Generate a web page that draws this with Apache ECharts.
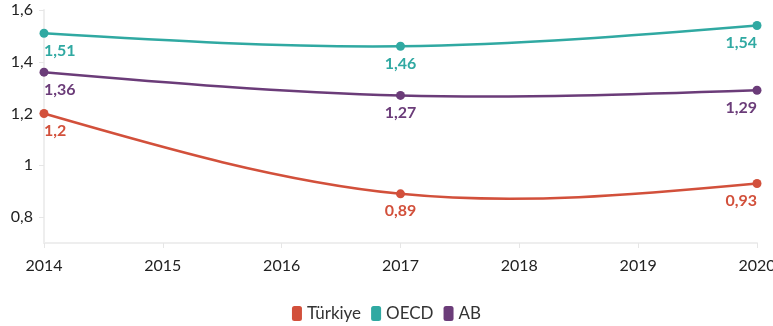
<!DOCTYPE html>
<html><head><meta charset="utf-8">
<script src="https://cdn.jsdelivr.net/npm/echarts@6/dist/echarts.min.js"></script>
<style>html,body{margin:0;padding:0;background:#fff}#c{width:773px;height:326px}</style>
</head><body><div id="c"></div>
<script>
var years = [2014, 2017, 2020];
var turkiye = [1.2, 0.89, 0.93];
var oecd = [1.51, 1.46, 1.54];
var ab = [1.36, 1.27, 1.29];
var yTicks = [0.8, 1, 1.2, 1.4, 1.6];
var seriesNames = ['Türkiye', 'OECD', 'AB'];
var colors = ['#d2503b', '#30a9a2', '#6b3c79'];
var FONT = 'Lato';

function fmt(v){ return String(v).replace('.', ','); }

// natural cubic spline control points (per dimension)
function controlPoints(x){
  var i, n = x.length - 1, m, a = new Array(n), b = new Array(n), r = new Array(n);
  a[0] = 0; b[0] = 2; r[0] = x[0] + 2 * x[1];
  for (i = 1; i < n - 1; ++i) { a[i] = 1; b[i] = 4; r[i] = 4 * x[i] + 2 * x[i + 1]; }
  a[n - 1] = 2; b[n - 1] = 7; r[n - 1] = 8 * x[n - 1] + x[n];
  for (i = 1; i < n; ++i) { m = a[i] / b[i - 1]; b[i] -= m; r[i] -= m * r[i - 1]; }
  a[n - 1] = r[n - 1] / b[n - 1];
  for (i = n - 2; i >= 0; --i) a[i] = (r[i] - a[i + 1]) / b[i];
  b[n - 1] = (x[n] + a[n - 1]) / 2;
  for (i = 0; i < n - 1; ++i) b[i] = 2 * x[i + 1] - a[i + 1];
  return [a, b];
}

function curveSeries(name, vals, color){
  return {
    name: name, type: 'custom', z: 1, silent: true,
    data: vals.map(function(v, i){ return [years[i], v]; }),
    encode: {x: 0, y: 1},
    renderItem: function(params, api){
      if (params.dataIndex !== 0) return null;
      var pts = vals.map(function(v, i){ return api.coord([years[i], v]); });
      var xs = pts.map(function(p){ return p[0]; });
      var ys = pts.map(function(p){ return p[1]; });
      var px = controlPoints(xs), py = controlPoints(ys);
      var children = [];
      for (var i = 0; i < pts.length - 1; i++) {
        children.push({type: 'bezierCurve',
          shape: {x1: xs[i], y1: ys[i], cpx1: px[0][i], cpy1: py[0][i],
                  cpx2: px[1][i], cpy2: py[1][i], x2: xs[i + 1], y2: ys[i + 1]},
          style: {stroke: color, lineWidth: 2.5, fill: null, lineCap: 'round'}});
      }
      return {type: 'group', children: children};
    }
  };
}

function pointSeries(name, vals, color){
  return {
    name: name, type: 'line', z: 3, color: color,
    symbol: 'circle', symbolSize: 9,
    lineStyle: {width: 0, opacity: 0},
    itemStyle: {color: color},
    data: vals.map(function(v, i){
      var align = i === 0 ? 'left' : (i === vals.length - 1 ? 'right' : 'center');
      return {value: [years[i], v], label: {align: align}};
    }),
    label: {show: true, position: 'bottom', distance: 5, color: color,
      fontFamily: FONT, fontWeight: 'bold', fontSize: 16,
      formatter: function(p){ return fmt(p.value[1]); }}
  };
}

var chart = echarts.init(document.getElementById('c'));
chart.setOption({
  animation: false,
  grid: {left: 44, right: 16, top: 10, bottom: 83, containLabel: false, outerBoundsMode: 'none'},
  legend: {top: 300, left: 'center', itemWidth: 10, itemHeight: 15, itemGap: 10,
    icon: 'roundRect',
    textStyle: {fontFamily: FONT, fontSize: 17, color: '#333'},
    data: seriesNames},
  xAxis: {type: 'value', min: 2014, max: 2020, interval: 1,
    axisLine: {lineStyle: {color: '#eeeeee', width: 2}},
    axisTick: {show: true, length: 5, lineStyle: {color: '#e6e6e6'}},
    splitLine: {show: false},
    axisLabel: {fontFamily: FONT, fontSize: 16, color: '#222', margin: 15,
      formatter: function(v){ return String(v); }}},
  yAxis: {type: 'value', min: 0.7, max: 1.6,
    axisLine: {show: true, lineStyle: {color: '#eeeeee', width: 2}},
    axisTick: {show: true, length: 5, customValues: yTicks, lineStyle: {color: '#e6e6e6'}},
    splitLine: {show: false},
    axisLabel: {customValues: yTicks, fontFamily: FONT, fontSize: 16, color: '#222', margin: 11,
      formatter: function(v){ return fmt(+v.toFixed(1)); }}},
  series: [
    pointSeries(seriesNames[0], turkiye, colors[0]),
    pointSeries(seriesNames[1], oecd, colors[1]),
    pointSeries(seriesNames[2], ab, colors[2]),
    curveSeries(seriesNames[0], turkiye, colors[0]),
    curveSeries(seriesNames[1], oecd, colors[1]),
    curveSeries(seriesNames[2], ab, colors[2])
  ]
});
</script></body></html>
